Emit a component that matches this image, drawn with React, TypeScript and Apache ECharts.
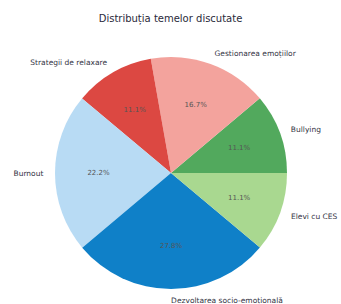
import React, { useEffect, useRef } from "react";
import * as echarts from "echarts";

const categories = [
  "Bullying",
  "Gestionarea emoțiilor",
  "Strategii de relaxare",
  "Burnout",
  "Dezvoltarea socio-emoțională",
  "Elevi cu CES",
];
const values = [2, 3, 2, 4, 5, 2];
const colors = ["#52a95d", "#f3a39d", "#dc4842", "#b8dbf4", "#0f80c8", "#a9d890"];
const titleText = "Distribuția temelor discutate";

export default function App() {
  const ref = useRef<HTMLDivElement>(null);
  useEffect(() => {
    if (!ref.current) return;
    const chart = echarts.init(ref.current, null, { renderer: "svg" });
    const total = values.reduce((a, b) => a + b, 0);
    const fillData = categories.map((name, i) => ({
      name,
      value: values[i],
      itemStyle: { color: colors[i] },
    }));
    const pctData = categories.map((name, i) => ({
      name,
      value: values[i],
      itemStyle: { color: "rgba(0,0,0,0)" },
    }));
    chart.setOption({
      animation: false,
      title: {
        text: titleText,
        left: "center",
        top: 8,
        textStyle: {
          fontFamily: "DejaVu Sans",
          fontSize: 10,
          fontWeight: "normal",
          color: "#2a2a3a",
        },
      },
      series: [
        {
          type: "pie",
          center: [171, 173],
          radius: [0, 116],
          startAngle: 0.05,
          clockwise: false,
          avoidLabelOverlap: false,
          silent: true,
          data: fillData,
          label: {
            show: true,
            position: "outside",
            fontFamily: "DejaVu Sans",
            fontSize: 7.5,
            color: "#333344",
            distanceToLabelLine: 0,
          },
          labelLine: { show: false, length: 11.6, length2: 0 },
        },
        {
          type: "pie",
          center: [171, 173],
          radius: [23, 116],
          startAngle: 0.05,
          clockwise: false,
          avoidLabelOverlap: false,
          silent: true,
          data: pctData,
          label: {
            show: true,
            position: "inside",
            fontFamily: "DejaVu Sans",
            fontSize: 7,
            color: "#555555",
            formatter: (p: any) => ((p.value / total) * 100).toFixed(1) + "%",
          },
          labelLine: { show: false },
        },
      ],
    });
    return () => chart.dispose();
  }, []);
  return (
    <div
      ref={ref}
      style={{ position: "fixed", left: 0, top: 0, width: 341, height: 304, background: "#fff" }}
    />
  );
}
